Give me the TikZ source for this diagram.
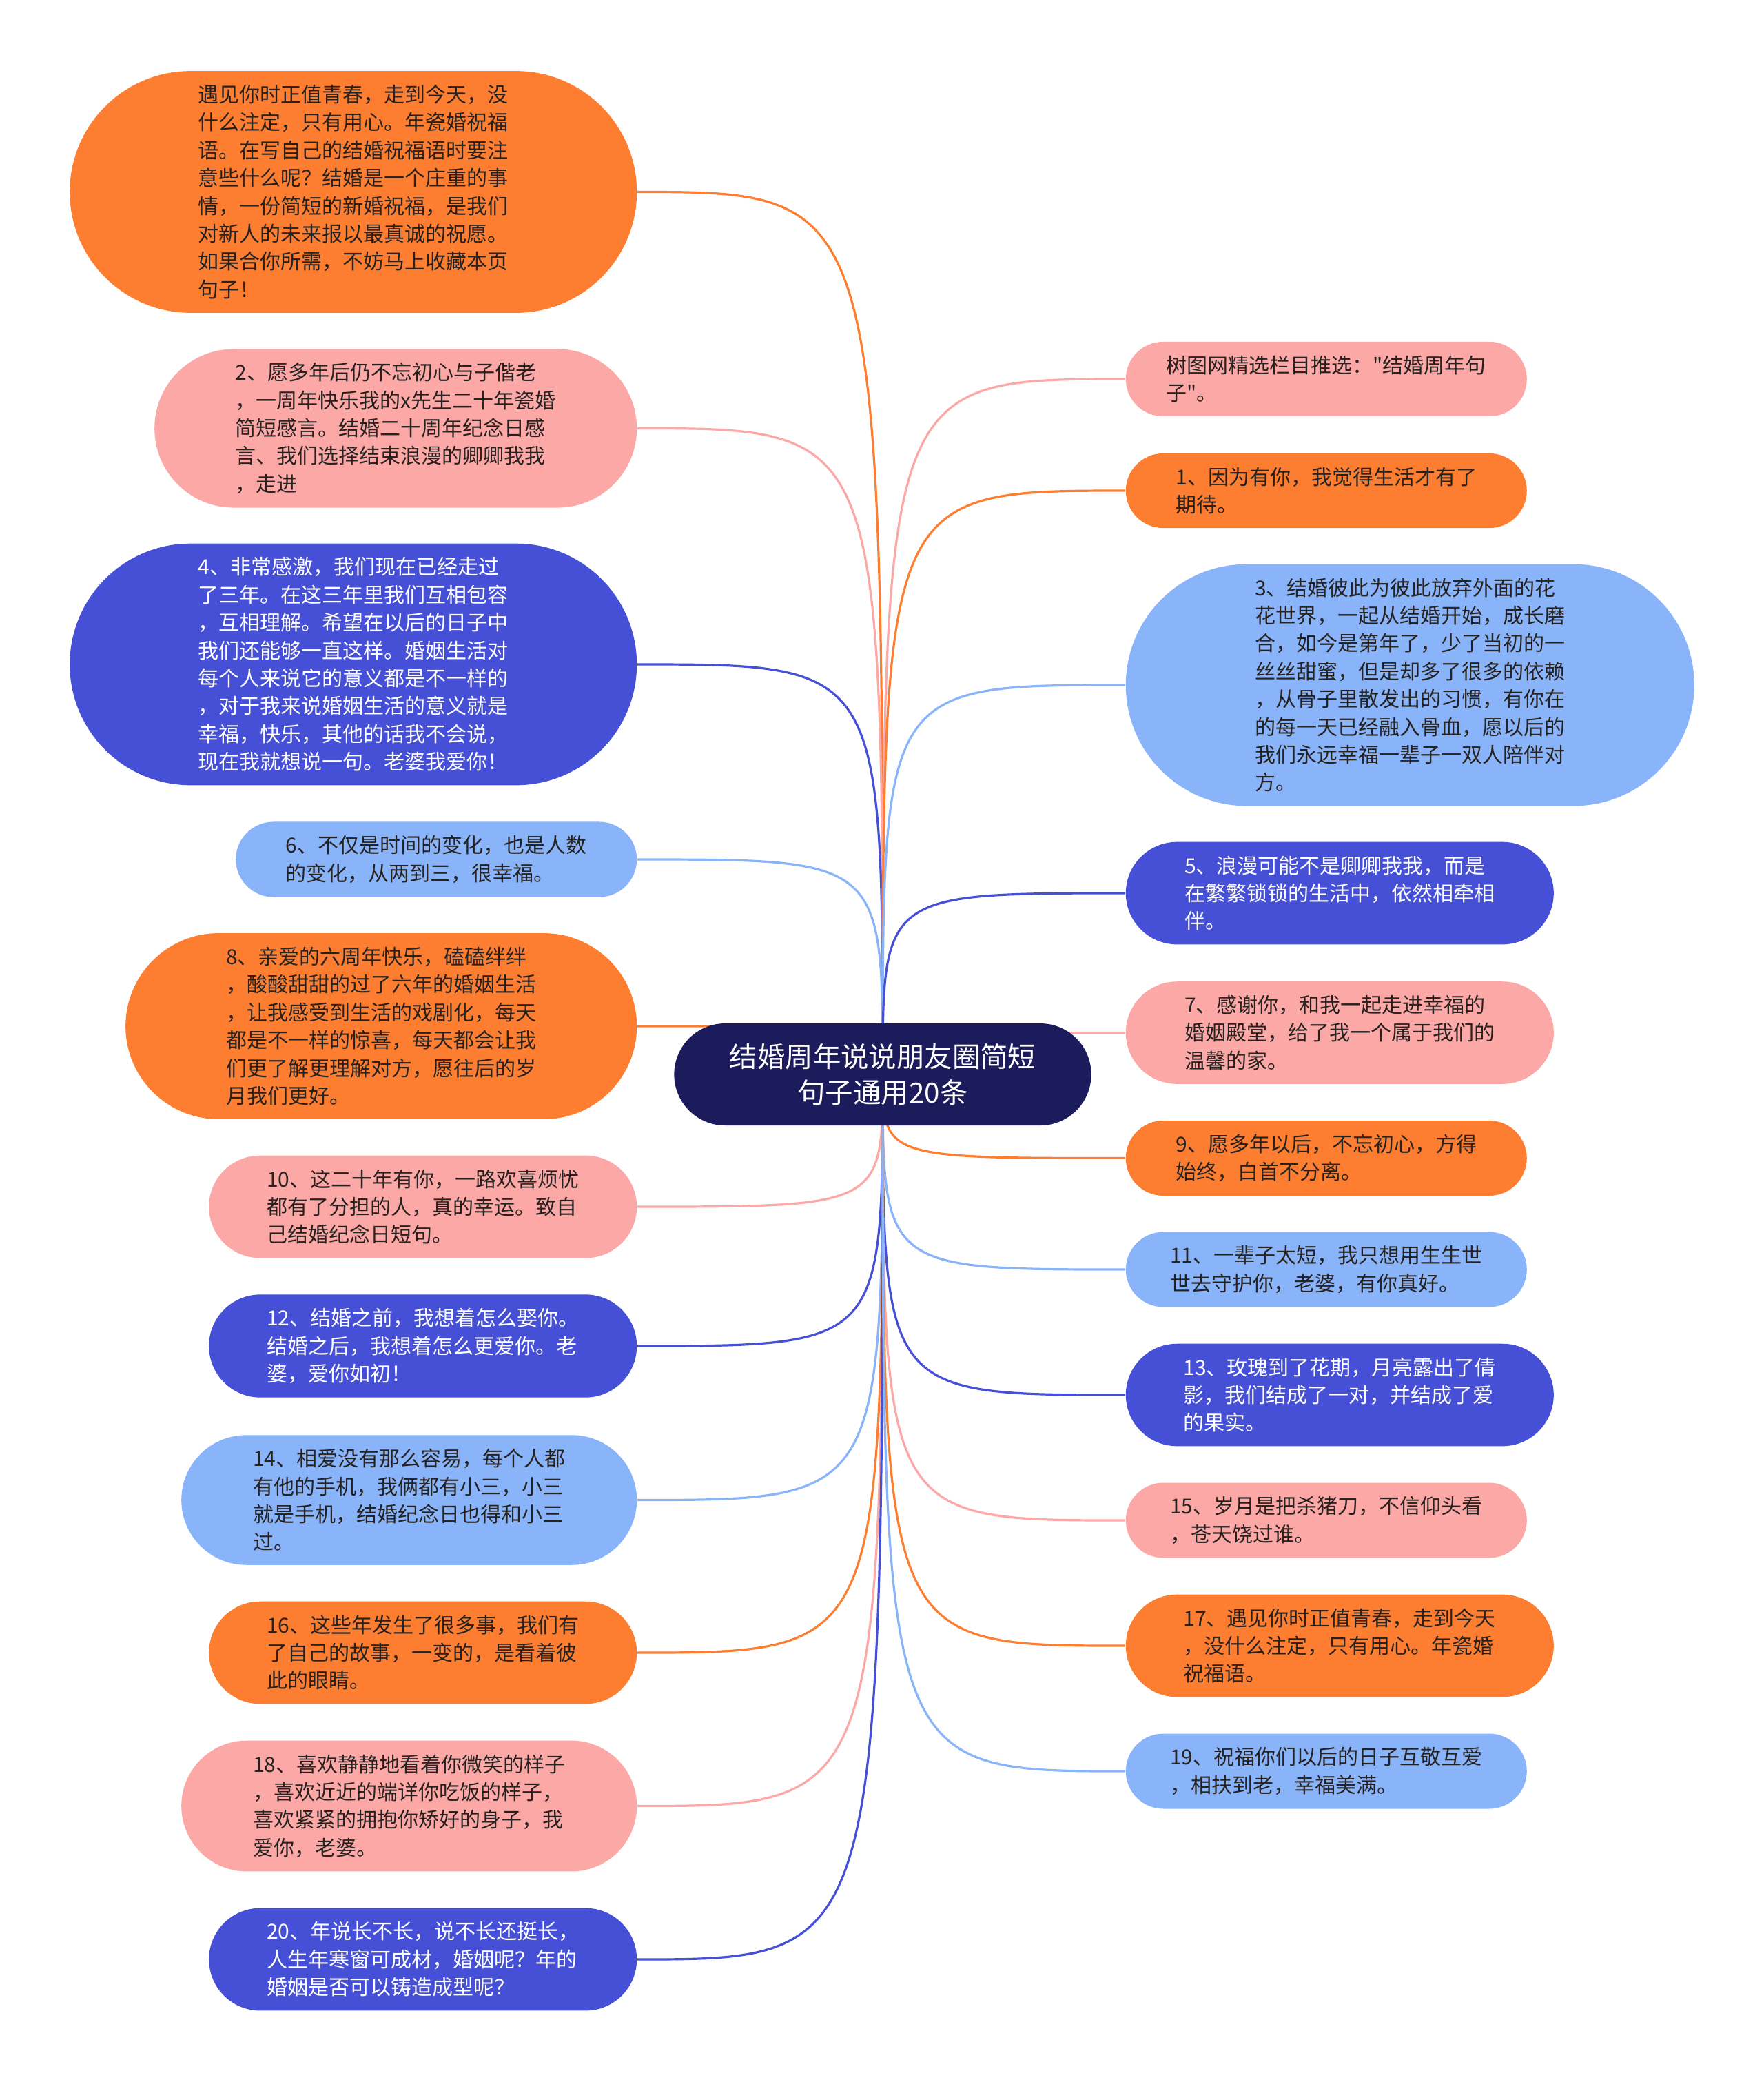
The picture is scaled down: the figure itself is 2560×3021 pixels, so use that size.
\documentclass[tikz,border=0pt]{standalone}
\usepackage{fontspec}
\newfontfamily\cjk{Noto Sans CJK SC}
\usepackage{tikz}
\usetikzlibrary{positioning,shapes.misc,backgrounds}
\definecolor{stuorange}{HTML}{FD7E31}
\definecolor{stupink}{HTML}{FCA8A7}
\definecolor{stublue}{HTML}{4650D6}
\definecolor{stusky}{HTML}{8AB4FA}
\definecolor{stunavy}{HTML}{1C1B5C}
\definecolor{stuink}{HTML}{262220}

\begin{document}
\begin{tikzpicture}[x=0.25pt,y=-0.25pt,
    leaf/.style={rounded rectangle,inner xsep=0pt,inner ysep=5pt,align=left,
      font=\cjk\fontsize{7.5pt}{10.1pt}\selectfont},
    orangeleaf/.style={leaf,fill=stuorange,text=stuink},
    pinkleaf/.style={leaf,fill=stupink,text=stuink},
    blueleaf/.style={leaf,fill=stublue,text=white},
    skyleaf/.style={leaf,fill=stusky,text=stuink},
    root/.style={rounded rectangle,fill=stunavy,text=white,align=center,
      minimum width=158pt,minimum height=37pt,
      font=\cjk\fontsize{10.1pt}{13pt}\selectfont},
    link/.style={line width=0.8pt}]
  \begin{pgfonlayer}{background}
    \fill[white] (0,0) rectangle (2560,3021);
  \end{pgfonlayer}
  \useasboundingbox (0,0) rectangle (2560,3021);

  \node[root] (root) at (1281,1559) {结婚周年说说朋友圈简短\\句子通用20条};

  % left column
  \node[orangeleaf,anchor=east,minimum width=205.75pt] (L0) at (925,278.5)
    {遇见你时正值青春，走到今天，没\\什么注定，只有用心。年瓷婚祝福\\语。在写自己的结婚祝福语时要注\\意些什么呢？结婚是一个庄重的事\\情，一份简短的新婚祝福，是我们\\对新人的未来报以最真诚的祝愿。\\如果合你所需，不妨马上收藏本页\\句子！};
  \node[pinkleaf,anchor=east,minimum width=175pt] (L1) at (925,621.5)
    {2、愿多年后仍不忘初心与子偕老\\，一周年快乐我的x先生二十年瓷婚\\简短感言。结婚二十周年纪念日感\\言、我们选择结束浪漫的卿卿我我\\，走进};
  \node[blueleaf,anchor=east,minimum width=205.75pt] (L2) at (925,964)
    {4、非常感激，我们现在已经走过\\了三年。在这三年里我们互相包容\\，互相理解。希望在以后的日子中\\我们还能够一直这样。婚姻生活对\\每个人来说它的意义都是不一样的\\，对于我来说婚姻生活的意义就是\\幸福，快乐，其他的话我不会说，\\现在我就想说一句。老婆我爱你！};
  \node[skyleaf,anchor=east,minimum width=145.5pt] (L3) at (925,1247)
    {6、不仅是时间的变化，也是人数\\的变化，从两到三，很幸福。};
  \node[orangeleaf,anchor=east,minimum width=185.5pt] (L4) at (925,1489)
    {8、亲爱的六周年快乐，磕磕绊绊\\，酸酸甜甜的过了六年的婚姻生活\\，让我感受到生活的戏剧化，每天\\都是不一样的惊喜，每天都会让我\\们更了解更理解对方，愿往后的岁\\月我们更好。};
  \node[pinkleaf,anchor=east,minimum width=155.25pt] (L5) at (925,1751)
    {10、这二十年有你，一路欢喜烦忧\\都有了分担的人，真的幸运。致自\\己结婚纪念日短句。};
  \node[blueleaf,anchor=east,minimum width=155.25pt] (L6) at (925,1953)
    {12、结婚之前，我想着怎么娶你。\\结婚之后，我想着怎么更爱你。老\\婆，爱你如初！};
  \node[skyleaf,anchor=east,minimum width=165.25pt] (L7) at (925,2176.5)
    {14、相爱没有那么容易，每个人都\\有他的手机，我俩都有小三，小三\\就是手机，结婚纪念日也得和小三\\过。};
  \node[orangeleaf,anchor=east,minimum width=155.25pt] (L8) at (925,2398)
    {16、这些年发生了很多事，我们有\\了自己的故事，一变的，是看着彼\\此的眼睛。};
  \node[pinkleaf,anchor=east,minimum width=165.25pt] (L9) at (925,2620.5)
    {18、喜欢静静地看着你微笑的样子\\，喜欢近近的端详你吃饭的样子，\\喜欢紧紧的拥抱你矫好的身子，我\\爱你，老婆。};
  \node[blueleaf,anchor=east,minimum width=155.25pt] (L10) at (925,2843)
    {20、年说长不长，说不长还挺长，\\人生年寒窗可成材，婚姻呢？年的\\婚姻是否可以铸造成型呢？};

  % right column
  \node[pinkleaf,anchor=west,minimum width=145.5pt] (R0) at (1633,550)
    {树图网精选栏目推选："结婚周年句\\子"。};
  \node[orangeleaf,anchor=west,minimum width=145.5pt] (R1) at (1633,712)
    {1、因为有你，我觉得生活才有了\\期待。};
  \node[skyleaf,anchor=west,minimum width=206.25pt] (R2) at (1633,994)
    {3、结婚彼此为彼此放弃外面的花\\花世界，一起从结婚开始，成长磨\\合，如今是第年了，少了当初的一\\丝丝甜蜜，但是却多了很多的依赖\\，从骨子里散发出的习惯，有你在\\的每一天已经融入骨血，愿以后的\\我们永远幸福一辈子一双人陪伴对\\方。};
  \node[blueleaf,anchor=west,minimum width=155.25pt] (R3) at (1633,1296)
    {5、浪漫可能不是卿卿我我，而是\\在繁繁锁锁的生活中，依然相牵相\\伴。};
  \node[pinkleaf,anchor=west,minimum width=155.25pt] (R4) at (1633,1498.5)
    {7、感谢你，和我一起走进幸福的\\婚姻殿堂，给了我一个属于我们的\\温馨的家。};
  \node[orangeleaf,anchor=west,minimum width=145.5pt] (R5) at (1633,1680.5)
    {9、愿多年以后，不忘初心，方得\\始终，白首不分离。};
  \node[skyleaf,anchor=west,minimum width=145.5pt] (R6) at (1633,1842)
    {11、一辈子太短，我只想用生生世\\世去守护你，老婆，有你真好。};
  \node[blueleaf,anchor=west,minimum width=155.25pt] (R7) at (1633,2024)
    {13、玫瑰到了花期，月亮露出了倩\\影，我们结成了一对，并结成了爱\\的果实。};
  \node[pinkleaf,anchor=west,minimum width=145.5pt] (R8) at (1633,2206)
    {15、岁月是把杀猪刀，不信仰头看\\，苍天饶过谁。};
  \node[orangeleaf,anchor=west,minimum width=155.25pt] (R9) at (1633,2388)
    {17、遇见你时正值青春，走到今天\\，没什么注定，只有用心。年瓷婚\\祝福语。};
  \node[skyleaf,anchor=west,minimum width=145.5pt] (R10) at (1633,2570)
    {19、祝福你们以后的日子互敬互爱\\，相扶到老，幸福美满。};

  % branches, drawn under the nodes
  \begin{pgfonlayer}{background}
    \foreach \n/\c in {L0/stuorange,L1/stupink,L2/stublue,L3/stusky,L4/stuorange,
        L5/stupink,L6/stublue,L7/stusky,L8/stuorange,L9/stupink,L10/stublue}
      \draw[link,\c] (root.center) .. controls (root.center |- \n.east) .. (\n.east);
    \foreach \n/\c in {R0/stupink,R1/stuorange,R2/stusky,R3/stublue,R4/stupink,
        R5/stuorange,R6/stusky,R7/stublue,R8/stupink,R9/stuorange,R10/stusky}
      \draw[link,\c] (root.center) .. controls (root.center |- \n.west) .. (\n.west);
  \end{pgfonlayer}
\end{tikzpicture}
\end{document}
